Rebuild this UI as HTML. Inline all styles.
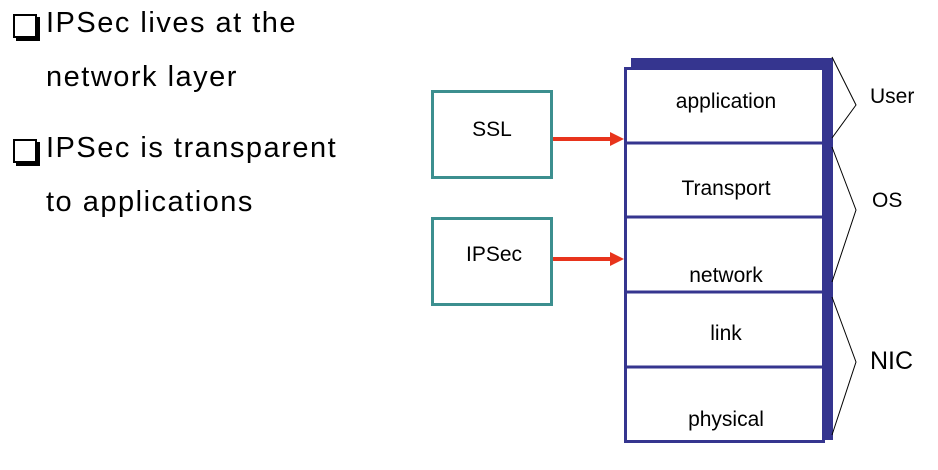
<!DOCTYPE html>
<html><head><style>
body{margin:0;width:938px;height:470px;background:#fff;position:relative;overflow:hidden;font-family:"Liberation Sans",sans-serif}
.t{position:absolute;font-size:29px;color:#000;left:46px;white-space:nowrap;letter-spacing:1.5px}
.cb{position:absolute;left:13px;width:20px;height:20px;border:2px solid #000;box-shadow:3px 3px 0 #000;background:#fff}
</style></head><body>
<div class="cb" style="top:14px"></div>
<div class="t" style="top:7px">IPSec lives at the</div>
<div class="t" style="top:61px">network layer</div>
<div class="cb" style="top:139px"></div>
<div class="t" style="top:132px">IPSec is transparent</div>
<div class="t" style="top:186px">to applications</div>
<svg width="938" height="470" style="position:absolute;left:0;top:0" font-family="Liberation Sans, sans-serif">
<rect x="631" y="58" width="202" height="382" fill="#35358f"/>
<rect x="625.5" y="68.5" width="198" height="373" fill="#fff" stroke="#35358f" stroke-width="3"/>
<g stroke="#35358f" stroke-width="3">
<line x1="625" y1="143" x2="824" y2="143"/>
<line x1="625" y1="217" x2="824" y2="217"/>
<line x1="625" y1="292" x2="824" y2="292"/>
<line x1="625" y1="367" x2="824" y2="367"/>
</g>
<g font-size="21" text-anchor="middle" fill="#000">
<text x="726" y="108">application</text>
<text x="726" y="195">Transport</text>
<text x="726" y="282">network</text>
<text x="726" y="340">link</text>
<text x="726" y="426">physical</text>
</g>
<g stroke="#000" stroke-width="1" fill="none">
<polyline points="832,57 856,105 832,138"/>
<polyline points="832,147 856,210 832,282"/>
<polyline points="832,297 856,362 832,435"/>
</g>
<g font-size="21" fill="#000">
<text x="870" y="103">User</text>
<text x="872" y="207">OS</text>
<text x="870" y="369" font-size="25">NIC</text>
</g>
<rect x="432.5" y="91.5" width="119" height="86" fill="#fff" stroke="#3c8f8f" stroke-width="3"/>
<rect x="432.5" y="218.5" width="119" height="86" fill="#fff" stroke="#3c8f8f" stroke-width="3"/>
<text x="492" y="136" font-size="21" text-anchor="middle">SSL</text>
<text x="494" y="261" font-size="21" text-anchor="middle">IPSec</text>
<g fill="#e8341c" stroke="#e8341c">
<line x1="553" y1="139" x2="612" y2="139" stroke-width="4"/>
<polygon points="610,132 624,139 610,146" stroke="none"/>
<line x1="553" y1="259" x2="612" y2="259" stroke-width="4"/>
<polygon points="610,252 624,259 610,266" stroke="none"/>
</g>
</svg>
</body></html>
